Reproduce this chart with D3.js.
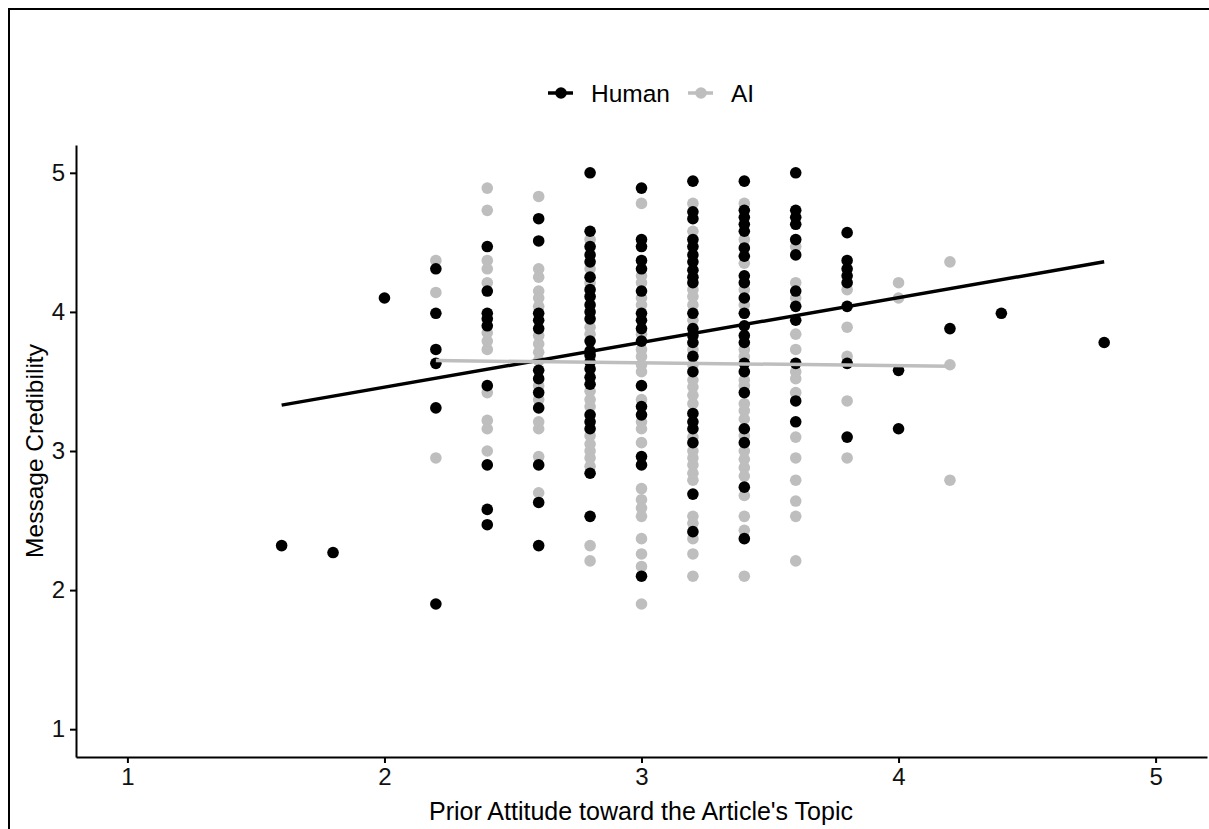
<!DOCTYPE html>
<html>
<head>
<meta charset="utf-8">
<script src="https://cdn.jsdelivr.net/npm/d3@7"></script>
<style>
  body { margin: 0; background: #fff; }
  text { font-family: "Liberation Sans", Arial, sans-serif; }
</style>
</head>
<body>
<script>
// values
const ticks = [1, 2, 3, 4, 5];
const groups = ['Human', 'AI'];
const groupColors = ['#000000', '#bebebe'];

// [prior attitude, [message credibility ...]]
const humanPoints = [
  [1.6, [2.32]],
  [1.8, [2.27]],
  [2.0, [4.10]],
  [2.2, [4.31, 3.99, 3.73, 3.63, 3.31, 1.90]],
  [2.4, [4.47, 4.15, 3.99, 3.95, 3.90, 3.47, 2.90, 2.58, 2.47]],
  [2.6, [4.67, 4.51, 3.99, 3.94, 3.88, 3.58, 3.52, 3.42, 3.31, 2.90, 2.63, 2.32]],
  [2.8, [5.00, 4.58, 4.47, 4.41, 4.36, 4.25, 4.16, 4.11, 4.05, 4.00, 3.95, 3.79, 3.72, 3.69, 3.64, 3.59, 3.53, 3.48, 3.26, 3.21, 3.16, 2.84, 2.53]],
  [3.0, [4.89, 4.52, 4.47, 4.37, 4.31, 4.15, 3.99, 3.94, 3.88, 3.79, 3.47, 3.32, 3.26, 2.96, 2.90, 2.10]],
  [3.2, [4.94, 4.72, 4.67, 4.52, 4.47, 4.41, 4.36, 4.30, 4.25, 4.21, 3.99, 3.88, 3.83, 3.78, 3.68, 3.57, 3.27, 3.21, 3.16, 3.06, 2.69, 2.42]],
  [3.4, [4.94, 4.73, 4.68, 4.63, 4.58, 4.46, 4.40, 4.26, 4.21, 4.10, 3.99, 3.90, 3.83, 3.78, 3.63, 3.57, 3.42, 3.16, 3.06, 2.74, 2.37]],
  [3.6, [5.00, 4.73, 4.68, 4.63, 4.52, 4.41, 4.15, 4.04, 3.94, 3.63, 3.36, 3.21]],
  [3.8, [4.57, 4.37, 4.31, 4.26, 4.21, 4.04, 3.63, 3.10]],
  [4.0, [3.58, 3.16]],
  [4.2, [3.88]],
  [4.4, [3.99]],
  [4.8, [3.78]]
];

const aiPoints = [
  [2.2, [4.37, 4.14, 2.95]],
  [2.4, [4.89, 4.73, 4.37, 4.31, 4.21, 3.85, 3.79, 3.73, 3.42, 3.22, 3.16, 3.00]],
  [2.6, [4.83, 4.31, 4.25, 4.15, 4.10, 4.04, 3.83, 3.77, 3.71, 3.65, 3.47, 3.37, 3.21, 3.16, 2.96, 2.70]],
  [2.8, [4.52, 4.31, 4.21, 3.89, 3.84, 3.68, 3.43, 3.37, 3.32, 3.11, 3.05, 3.00, 2.95, 2.89, 2.32, 2.21]],
  [3.0, [4.78, 4.26, 4.21, 4.10, 4.05, 3.84, 3.73, 3.68, 3.62, 3.57, 3.37, 3.21, 3.16, 3.06, 2.73, 2.65, 2.59, 2.53, 2.37, 2.26, 2.17, 1.90]],
  [3.2, [4.78, 4.58, 4.16, 4.11, 4.05, 3.94, 3.73, 3.62, 3.51, 3.46, 3.40, 3.34, 3.10, 3.00, 2.95, 2.90, 2.84, 2.79, 2.53, 2.48, 2.37, 2.26, 2.10]],
  [3.4, [4.78, 4.52, 4.35, 4.16, 4.05, 3.73, 3.68, 3.51, 3.47, 3.34, 3.29, 3.23, 3.11, 3.00, 2.94, 2.88, 2.82, 2.68, 2.53, 2.43, 2.10]],
  [3.6, [4.47, 4.21, 4.10, 3.84, 3.73, 3.57, 3.52, 3.42, 3.10, 2.95, 2.79, 2.64, 2.53, 2.21]],
  [3.8, [4.16, 3.89, 3.68, 3.36, 2.95]],
  [4.0, [4.21, 4.10]],
  [4.2, [4.36, 3.62, 2.79]]
];

// fitted lines (ends)
const humanFit = [[1.6, 3.33], [4.8, 4.36]];
const aiFit = [[2.2, 3.65], [4.2, 3.61]];

const W = 1209, H = 829;
const svg = d3.select('body').append('svg')
  .attr('width', W)
  .attr('height', H);

// outer frame, cut off on the right and bottom like the picture
svg.append('rect')
  .attr('x', 9).attr('y', 9)
  .attr('width', 1400).attr('height', 1000)
  .attr('fill', 'none').attr('stroke', '#000').attr('stroke-width', 2);

const x = d3.scaleLinear().domain([0.8, 5.2]).range([76, 1207]);
const y = d3.scaleLinear().domain([0.8, 5.2]).range([757, 145]);

const flat = (cols) => cols.flatMap(c => c[1].map(v => [c[0], v]));

const plot = svg.append('g');

plot.selectAll('circle.ai').data(flat(aiPoints)).join('circle')
  .attr('class', 'ai')
  .attr('cx', d => x(d[0]))
  .attr('cy', d => y(d[1]))
  .attr('r', 5.8)
  .attr('fill', groupColors[1]);

plot.selectAll('circle.human').data(flat(humanPoints)).join('circle')
  .attr('class', 'human')
  .attr('cx', d => x(d[0]))
  .attr('cy', d => y(d[1]))
  .attr('r', 5.8)
  .attr('fill', groupColors[0]);

const line = d3.line().x(d => x(d[0])).y(d => y(d[1]));
plot.append('path').datum(humanFit)
  .attr('d', line).attr('fill', 'none')
  .attr('stroke', groupColors[0]).attr('stroke-width', 3.5);
plot.append('path').datum(aiFit)
  .attr('d', line).attr('fill', 'none')
  .attr('stroke', groupColors[1]).attr('stroke-width', 3.5);

// axes
const xAxis = svg.append('g')
  .attr('transform', `translate(0,${y(0.8)})`)
  .call(d3.axisBottom(x).tickValues(ticks).tickSize(6).tickSizeOuter(0).tickPadding(5).tickFormat(d3.format('d')));
const yAxis = svg.append('g')
  .attr('transform', `translate(${x(0.8)},0)`)
  .call(d3.axisLeft(y).tickValues(ticks).tickSize(6).tickSizeOuter(0).tickPadding(5).tickFormat(d3.format('d')));

[xAxis, yAxis].forEach(a => {
  a.select('.domain').attr('stroke', '#000').attr('stroke-width', 2);
  a.selectAll('.tick line').attr('stroke', '#000').attr('stroke-width', 2);
  a.selectAll('.tick text').attr('fill', '#111')
    .style('font-size', '24px')
    .style('font-family', '"Liberation Sans", Arial, sans-serif');
});

svg.append('text')
  .attr('x', 641)
  .attr('y', 820)
  .attr('text-anchor', 'middle')
  .style('font-size', '25px')
  .text("Prior Attitude toward the Article's Topic");

svg.append('text')
  .attr('transform', `translate(43,${(y(0.8) + y(5.2)) / 2}) rotate(-90)`)
  .attr('text-anchor', 'middle')
  .style('font-size', '24.5px')
  .text('Message Credibility');

// legend
const legendX = [548, 688];
const leg = svg.append('g');
groups.forEach((gname, i) => {
  const g = leg.append('g').attr('transform', `translate(${legendX[i]},93)`);
  g.append('line').attr('x1', 0).attr('x2', 25).attr('y1', 0).attr('y2', 0)
    .attr('stroke', groupColors[i]).attr('stroke-width', 3.5);
  g.append('circle').attr('cx', 13).attr('cy', 0).attr('r', 5.8).attr('fill', groupColors[i]);
  g.append('text').attr('x', 43).attr('y', 9)
    .style('font-size', '24.5px')
    .text(gname);
});
</script>
</body>
</html>
